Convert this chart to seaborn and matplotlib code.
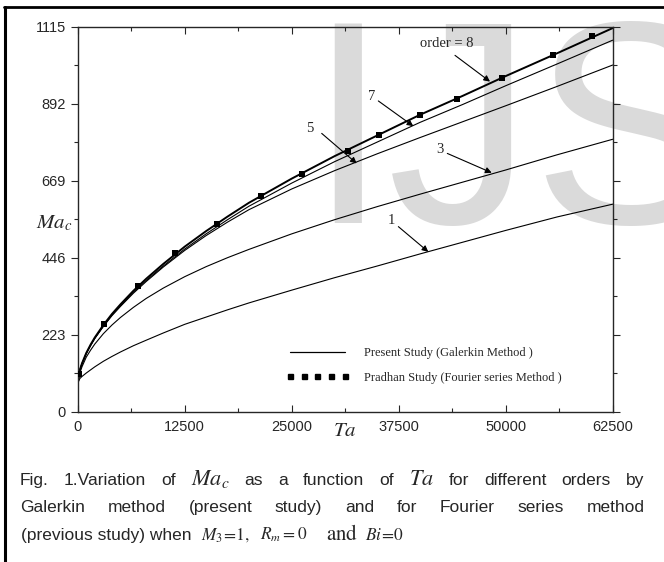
import numpy as np
import pandas as pd
import matplotlib
matplotlib.use("Agg")
import matplotlib.pyplot as plt
import seaborn as sns
from matplotlib.lines import Line2D

# Galerkin (present study) critical Marangoni number vs Taylor number
ta = [0, 250, 500, 1000, 1500, 2000, 3000, 4000, 5000, 6500, 8000, 10000,
      12500, 15000, 17500, 20000, 25000, 30000, 35000, 40000, 45000, 50000,
      56000, 62500]
ma_order1 = [82, 96, 102, 112, 121, 130, 146, 160, 173, 191, 207, 228,
             253, 274, 295, 315, 352, 388, 422, 457, 491, 525, 564, 601]
ma_order3 = [82, 112, 130, 158, 178, 196, 226, 251, 273, 302, 328, 358,
             391, 420, 446, 470, 515, 556, 594, 630, 665, 700, 744, 789]
ma_order5 = [82, 120, 139, 168, 191, 212, 247, 278, 305, 343, 377, 419,
             467, 510, 549, 585, 645, 698, 747, 794, 840, 886, 942, 1004]
ma_order7 = [82, 121, 139, 169, 192, 213, 248, 280, 307, 346, 380, 422,
             471, 515, 556, 595, 662, 724, 781, 838, 890, 944, 1007, 1076]
ma_order8 = [82, 121, 140, 170, 194, 215, 251, 283, 311, 350, 385, 428,
             478, 523, 565, 605, 675, 740, 800, 860, 915, 972, 1038, 1111]

# Pradhan (Fourier series) points
pradhan_ta = [200, 3100, 7000, 11350, 16300, 21450, 26250, 31600, 35150,
              40000, 44300, 49550, 55500, 60050]
pradhan_ma = [110, 255, 364, 460, 544, 625, 689, 756, 802, 858, 906, 967,
              1032, 1088]

x_ticks = [0, 12500, 25000, 37500, 50000, 62500]
y_ticks = [0, 223, 446, 669, 892, 1115]

W, H = 664, 562


def fx(x):
    return x / W


def fy(y):
    return 1 - y / H


sns.set_style("ticks")
plt.rcParams['font.family'] = ['Liberation Sans', 'DejaVu Sans']
plt.rcParams['mathtext.fontset'] = 'stix'
plt.rcParams['axes.linewidth'] = 1.0

fig = plt.figure(figsize=(6.64, 5.62), dpi=100)
ax = fig.add_axes([fx(77.7), fy(411.7), 535 / W, 385 / H])
ax.set_facecolor('none')

# watermark
fig.text(fx(307), fy(222.7), 'IJS', fontsize=209, family='Liberation Sans',
         color='#dadada', va='baseline', ha='left', zorder=-1)

# outer border (left and top)
fig.add_artist(Line2D([fx(5), fx(5)], [fy(7), 0], color='k', lw=2.2))
fig.add_artist(Line2D([fx(4), 1], [fy(7), fy(7)], color='k', lw=2.0))

curves = {1: ma_order1, 3: ma_order3, 5: ma_order5, 7: ma_order7, 8: ma_order8}
for order, vals in curves.items():
    lw = 1.4 if order == 8 else 0.8
    sns.lineplot(x=ta, y=vals, color='k', lw=lw, ax=ax)

sns.scatterplot(x=pradhan_ta, y=pradhan_ma, marker='s', s=16, color='k',
                edgecolor='k', linewidth=0, ax=ax, zorder=3)

ax.set_xlim(0, 62500)
ax.set_ylim(0, 1115)
ax.set_xticks(x_ticks)
ax.set_xticks([6250 + 12500 * i for i in range(5)], minor=True)
ax.set_yticks(y_ticks)
ax.set_yticks([111.5 + 223 * i for i in range(5)], minor=True)
ax.set_xlabel('')
ax.set_ylabel('')
ax.tick_params(axis='x', which='major', direction='in', length=5, width=0.8,
               labelsize=10.5, top=True, pad=6)
ax.tick_params(axis='x', which='minor', direction='in', length=3, width=0.8,
               top=True)
ax.tick_params(axis='y', which='major', direction='out', length=5, width=0.8,
               labelsize=10.5, right=True)
ax.tick_params(axis='y', which='minor', direction='out', length=3, width=0.8,
               right=True)
for sp in ax.spines.values():
    sp.set_visible(True)
    sp.set_linewidth(1.0)

# axis titles
fig.text(fx(36), fy(228), r'$Ma_c$', fontsize=15, ha='left', va='baseline')
fig.text(fx(333), fy(436), r'$Ta$', fontsize=15, ha='left', va='baseline')

# order annotations
arrow = dict(arrowstyle='-|>', color='k', lw=0.8, mutation_scale=9,
             shrinkA=0, shrinkB=0)
serif = dict(family='Liberation Serif', fontsize=10.5, ha='center', va='center')
labels = [('order = 8', (43100, 1067), (44077, 1032), (48168, 956)),
          ('7', (34346, 912), (35120, 900), (39206, 827)),
          ('5', (27150, 821), (28505, 806), (32593, 719)),
          ('3', (42325, 758), (43178, 748), (48365, 692)),
          ('1', (36682, 555), (37460, 536), (40958, 463))]
for txt, pos, tail, tip in labels:
    ax.text(pos[0], pos[1], txt, **serif)
    ax.annotate('', xy=tip, xytext=tail, arrowprops=arrow)

# legend
handles = [Line2D([], [], color='k', lw=0.9),
           Line2D([], [], color='k', ls='none', marker='s', ms=3.6)]
ax.legend(handles, ['Present Study (Galerkin Method )',
                    'Pradhan Study (Fourier series Method )'],
          loc='upper left', bbox_to_anchor=(fx(286), fy(347)),
          bbox_transform=fig.transFigure, frameon=False, numpoints=5,
          handlelength=5.0, handletextpad=1.2, labelspacing=1.0,
          borderpad=0, borderaxespad=0,
          prop={'family': 'Liberation Serif', 'size': 9})

# caption
cap = dict(family='Liberation Sans', fontsize=12.5)
math_big = dict(fontsize=16)
math_small = dict(fontsize=12.5)
renderer = fig.canvas.get_renderer()


def place_line(pieces, y_px, x0, x1=None, xs=None):
    texts = [fig.text(0, fy(y_px), s, va='baseline', ha='left', **kw)
             for s, kw in pieces]
    widths = [t.get_window_extent(renderer=renderer).width for t in texts]
    if xs is not None:
        for t, x in zip(texts, xs):
            t.set_x(fx(x))
        return
    gap = (x1 - x0 - sum(widths)) / (len(texts) - 1)
    x = x0
    for t, w in zip(texts, widths):
        t.set_x(fx(x))
        x += w + gap


line1 = [('Fig.', cap), ('1.Variation', cap), ('of', cap),
         (r'$Ma_c$', math_big), ('as', cap), ('a', cap), ('function', cap),
         ('of', cap), (r'$Ta$', math_big), ('for', cap), ('different', cap),
         ('orders', cap), ('by', cap)]
line2 = [('Galerkin', cap), ('method', cap), ('(present', cap),
         ('study)', cap), ('and', cap), ('for', cap), ('Fourier', cap),
         ('series', cap), ('method', cap)]
line3 = [('(previous study) when', cap), (r'$M_3\!=\!1,$', math_small),
         (r'$R_m = 0$', math_small), (r'$\mathrm{and}$', dict(fontsize=15)),
         (r'$Bi\!=\!0$', math_small)]
place_line(line1, 485, 20, 644)
place_line(line2, 512, 20, 645)
place_line(line3, 540, 20, xs=[21, 201, 260, 326, 365])

fig.savefig('out.png', dpi=100)
